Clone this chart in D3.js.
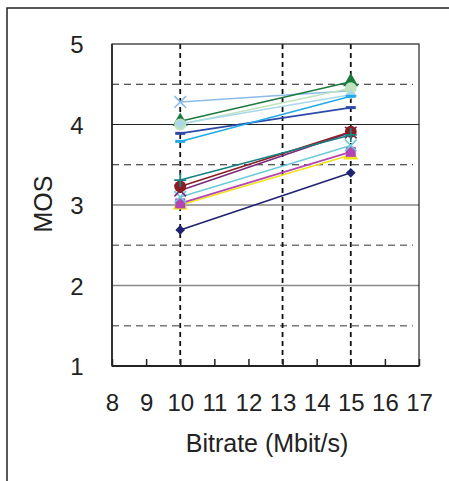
<!DOCTYPE html>
<html><head><meta charset="utf-8">
<script src="https://cdn.jsdelivr.net/npm/d3@7"></script>
<style>body{margin:0;background:#fff}svg{display:block}text{font-family:"Liberation Sans",Arial,sans-serif;fill:#222}</style>
</head><body><svg id="c" width="449" height="481"></svg>
<script>
const bitrates = [10, 15];
const xTicks = [8, 9, 10, 11, 12, 13, 14, 15, 16, 17];
const yTicks = [1, 2, 3, 4, 5];
const seriesNames = ["s1","s2","s3","s4","s5","s6","s7","s8","s9","s10","s11","s12","s13"];
const seriesColors = ["#1f2370","#f2e21a","#b445b4","#6ccbd8","#7a2a7a","#8b1c24","#158282","#8cbbe8","#1d7a3c","#bfe3bf","#a9d8ea","#2e4aa8","#22aae8"];
const seriesMarkers = ["diamond","triangle","square","cross","cross","circle","plus","cross","triangle","circle","diamond","dash","dash"];
const mos10 = [2.69, 3.00, 3.02, 3.10, 3.18, 3.23, 3.31, 4.28, 4.04, 4.00, 4.01, 3.89, 3.79];
const mos15 = [3.40, 3.62, 3.66, 3.74, 3.90, 3.91, 3.87, 4.42, 4.53, 4.45, 4.37, 4.21, 4.35];

const svg = d3.select("#c");
const L = 112, R = 419, T = 44, B = 366;
const x = d3.scaleLinear().domain([8, 17]).range([L, R]);
const y = d3.scaleLinear().domain([1, 5]).range([B, T]);

// outer frame
svg.append("rect").attr("x", 7).attr("y", 8).attr("width", 470).attr("height", 520)
  .attr("fill", "none").attr("stroke", "#222").attr("stroke-width", 1.5);

// horizontal grid
const hg = svg.append("g");
[4].forEach(v => hg.append("line").attr("x1", L).attr("x2", R).attr("y1", y(v)).attr("y2", y(v)).attr("stroke", "#222").attr("stroke-width", 1.2));
[3, 2].forEach(v => hg.append("line").attr("x1", L).attr("x2", R).attr("y1", y(v)).attr("y2", y(v)).attr("stroke", "#888").attr("stroke-width", 1.5));
[4.5, 3.5].forEach(v => hg.append("line").attr("x1", L).attr("x2", 413).attr("y1", y(v)).attr("y2", y(v)).attr("stroke", "#222").attr("stroke-width", 1.2).attr("stroke-dasharray", "7,5"));
[2.5, 1.5].forEach(v => hg.append("line").attr("x1", L).attr("x2", 413).attr("y1", y(v)).attr("y2", y(v)).attr("stroke", "#777").attr("stroke-width", 1.4).attr("stroke-dasharray", "7,5"));
// vertical dashed grid
[10, 13, 15].forEach(v => hg.append("line").attr("x1", x(v)).attr("x2", x(v)).attr("y1", T).attr("y2", B).attr("stroke", "#111").attr("stroke-width", 1.8).attr("stroke-dasharray", "5,4"));

// plot frame
svg.append("rect").attr("x", L).attr("y", T).attr("width", R - L).attr("height", B - T)
  .attr("fill", "none").attr("stroke", "#222").attr("stroke-width", 1.2);
svg.append("line").attr("x1", L).attr("x2", R).attr("y1", B).attr("y2", B).attr("stroke", "#222").attr("stroke-width", 2);
svg.append("line").attr("x1", L).attr("x2", L).attr("y1", T).attr("y2", B).attr("stroke", "#222").attr("stroke-width", 1.6);

// x axis ticks (inside)
const xa = d3.axisBottom(x).tickValues(xTicks).tickSize(-7).tickPadding(28).tickFormat(d3.format("d"));
const gx = svg.append("g").attr("transform", `translate(0,${B})`).call(xa);
gx.select(".domain").remove();
gx.selectAll(".tick line").attr("stroke", "#222").attr("stroke-width", 1.5);
gx.selectAll(".tick text").attr("font-size", 24).attr("fill", "#222").attr("font-family", '"Liberation Sans",Arial,sans-serif');

// y axis labels
const ya = d3.axisLeft(y).tickValues(yTicks).tickSize(0).tickFormat(d3.format("d"));
const gy = svg.append("g").attr("transform", `translate(${L},0)`).call(ya);
gy.select(".domain").remove();
gy.selectAll(".tick text").attr("font-size", 24).attr("fill", "#222").attr("text-anchor", "middle").attr("x", -35).attr("dy", "0.36em").attr("font-family", '"Liberation Sans",Arial,sans-serif');

// axis titles
svg.append("text").attr("x", 267).attr("y", 452).attr("text-anchor", "middle").attr("font-size", 25).text("Bitrate (Mbit/s)");
svg.append("text").attr("transform", "translate(52,204) rotate(-90)").attr("text-anchor", "middle").attr("font-size", 25).text("MOS");

// series
const line = d3.line().x(d => x(d[0])).y(d => y(d[1]));
const sym = {diamond: d3.symbolDiamond2, triangle: d3.symbolTriangle, square: d3.symbolSquare, circle: d3.symbolCircle};
const sg = svg.append("g");
seriesNames.forEach((n, i) => {
  const pts = bitrates.map((b, j) => [b, j === 0 ? mos10[i] : mos15[i]]);
  const c = seriesColors[i];
  sg.append("path").attr("d", line(pts)).attr("fill", "none").attr("stroke", c).attr("stroke-width", 1.6);
  pts.forEach(p => {
    const px = x(p[0]), py = y(p[1]);
    const m = seriesMarkers[i];
    if (sym[m]) {
      sg.append("path").attr("d", d3.symbol(sym[m], m === "circle" ? 110 : m === "diamond" ? 60 : 100)()).attr("transform", `translate(${px},${py})`).attr("fill", c);
    } else if (m === "cross") {
      sg.append("path").attr("d", d3.symbol(d3.symbolX, 90)()).attr("transform", `translate(${px},${py})`).attr("fill", "none").attr("stroke", c).attr("stroke-width", 1.6);
    } else if (m === "plus") {
      sg.append("path").attr("d", `M${px-6},${py}H${px+6}M${px},${py-7}V${py+7}`).attr("stroke", c).attr("stroke-width", 1.8);
    } else if (m === "dash") {
      sg.append("path").attr("d", `M${px-5},${py}H${px+5}`).attr("stroke", c).attr("stroke-width", 3);
    }
  });
});
</script></body></html>
